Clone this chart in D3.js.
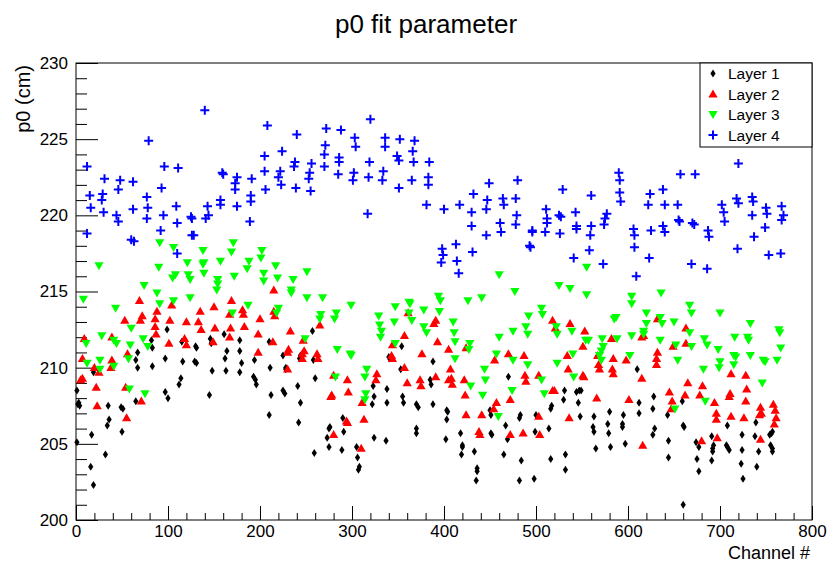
<!DOCTYPE html>
<html>
<head>
<meta charset="utf-8">
<script src="https://cdn.jsdelivr.net/npm/d3@7"></script>
<style>
  html, body { margin: 0; padding: 0; background: #fff; }
  svg { display: block; font-family: "Liberation Sans", Arial, Helvetica, sans-serif; }
</style>
</head>
<body>
<svg id="chart" width="830" height="563"></svg>
<script>
// ---------------- data: [channel, p0 (cm)] ----------------
const layer1 = [[1,208.5],[3,207.7],[2,207.6],[4,207.5],[1,205.1],[19,209.7],[17,205.6],[16,203.5],[19,202.3],[32,204.3],[35,207.5],[36,206.6],[34,206.2],[49,207.4],[51,207.3],[50,205.8],[65,207.8],[67,211.0],[67,210.0],[65,210.5],[82,211.8],[83,211.3],[83,210.1],[99,212.5],[97,210.6],[97,208.4],[100,208.0],[114,209.3],[112,208.9],[115,211.7],[116,210.4],[130,211.4],[131,211.3],[129,210.4],[131,210.3],[145,208.2],[146,211.9],[147,211.6],[148,209.8],[161,212.2],[164,211.1],[162,210.6],[163,209.8],[178,211.8],[178,211.1],[180,210.3],[178,209.7],[194,210.5],[193,209.4],[195,209.2],[196,208.9],[210,211.7],[211,210.0],[212,208.2],[210,206.9],[225,210.8],[228,210.0],[228,209.9],[225,208.5],[227,208.3],[244,210.8],[243,210.6],[241,208.8],[244,207.7],[242,206.4],[257,212.4],[258,210.5],[260,209.3],[259,204.4],[275,206.0],[276,206.1],[273,205.4],[275,204.8],[290,206.7],[291,205.8],[289,204.6],[305,204.8],[306,204.1],[308,203.5],[307,203.3],[323,208.8],[324,208.1],[322,207.6],[324,205.4],[338,208.6],[338,207.7],[337,205.2],[354,211.4],[340,210.7],[341,210.6],[353,209.9],[355,208.1],[356,207.7],[370,207.6],[372,207.4],[370,206.0],[370,205.7],[388,210.4],[388,207.6],[385,209.2],[386,208.9],[403,207.2],[404,207.1],[403,206.6],[402,205.3],[418,205.7],[420,204.9],[420,204.8],[419,204.3],[433,204.5],[436,203.4],[436,203.2],[435,202.6],[450,207.2],[451,206.9],[451,205.7],[452,205.6],[467,206.2],[469,205.3],[465,204.3],[470,209.4],[483,206.9],[482,206.7],[484,203.9],[482,202.6],[500,206.9],[499,205.8],[498,202.7],[514,206.0],[516,207.3],[517,207.5],[516,204.0],[531,208.5],[530,207.9],[532,204.3],[532,203.3],[544,208.4],[547,208.5],[549,208.5],[546,207.7],[548,206.8],[563,206.8],[562,206.1],[563,205.8],[565,204.7],[580,207.1],[578,206.3],[579,205.7],[581,204.8],[595,206.9],[594,206.3],[594,206.1],[597,205.0],[610,209.9],[612,207.7],[612,207.0],[628,208.1],[627,207.3],[629,206.0],[627,205.6],[643,206.9],[644,205.2],[644,204.1],[659,207.8],[660,206.2],[661,206.1],[660,201.0],[674,205.1],[677,204.8],[675,204.0],[677,203.2],[691,205.5],[693,204.9],[692,204.7],[692,204.5],[691,203.9],[708,206.2],[707,204.9],[708,204.8],[710,204.6],[724,205.6],[724,204.6],[723,203.7],[725,202.7],[739,206.4],[738,205.5],[742,204.5],[740,203.5],[754,205.6],[756,205.7],[757,205.8],[755,204.9],[757,204.7],[757,204.5]];

const layer2 = [[9,211.9],[7,210.6],[5,209.2],[7,209.3],[20,210.0],[22,208.7],[23,207.5],[25,209.7],[38,210.0],[39,212.0],[39,210.5],[55,206.7],[54,208.7],[53,213.1],[56,210.9],[69,214.4],[70,213.1],[72,213.4],[71,207.8],[86,212.7],[88,213.7],[86,213.2],[87,212.2],[102,213.1],[101,211.6],[104,214.1],[118,211.9],[120,211.5],[120,213.0],[135,213.7],[133,213.0],[136,212.5],[150,214.0],[151,212.6],[149,211.7],[169,214.4],[167,213.5],[168,212.6],[167,212.0],[181,213.8],[182,213.5],[183,212.7],[200,213.2],[198,212.2],[198,211.0],[215,215.1],[216,213.4],[215,213.7],[214,211.7],[233,212.4],[231,211.2],[230,211.0],[230,209.9],[247,211.8],[248,211.1],[246,210.9],[246,210.6],[265,212.8],[262,210.9],[263,210.6],[280,209.5],[278,208.2],[277,208.1],[280,205.6],[295,209.2],[296,208.4],[294,206.5],[295,206.4],[311,207.7],[313,206.6],[310,204.7],[327,209.6],[326,209.2],[344,211.5],[343,210.8],[344,210.6],[357,212.1],[357,210.0],[360,209.0],[361,213.6],[376,210.9],[374,209.2],[375,208.8],[391,213.1],[389,212.9],[393,211.7],[391,209.4],[405,211.2],[405,209.2],[407,209.9],[408,209.3],[409,208.9],[424,211.3],[422,209.2],[423,208.2],[424,206.9],[438,205.8],[439,205.6],[441,206.9],[455,210.5],[457,207.7],[454,207.3],[470,210.9],[472,207.9],[472,205.6],[487,210.8],[488,209.5],[489,209.1],[486,205.7],[503,209.5],[503,206.8],[504,205.6],[518,213.1],[521,212.6],[518,208.5],[520,208.5],[537,212.9],[534,210.8],[535,209.9],[536,206.7],[553,212.4],[551,211.4],[551,209.5],[552,209.4],[567,210.8],[568,210.2],[569,209.9],[566,208.0],[582,211.9],[584,210.6],[583,209.9],[584,209.6],[598,210.5],[601,207.9],[615,212.0],[617,212.1],[615,209.3],[616,204.9],[632,213.2],[632,211.0],[631,210.6],[631,210.2],[649,211.4],[645,208.4],[648,207.8],[647,207.3],[663,212.6],[663,211.6],[665,209.0],[662,208.2],[680,205.2],[681,208.8],[678,208.2],[694,207.7],[696,207.0],[696,206.6],[697,205.4],[712,209.6],[711,208.3],[710,208.1],[712,206.8],[728,209.5],[729,208.6],[728,207.8],[726,206.7],[744,207.4],[745,207.0],[743,206.9],[744,205.3],[758,207.6],[760,207.2],[761,206.7],[759,206.3]];

const layer3 = [[8,214.5],[11,211.6],[12,210.3],[25,216.7],[26,210.5],[26,209.9],[28,212.1],[41,211.8],[44,211.6],[41,210.1],[43,213.9],[60,212.6],[59,211.5],[57,210.6],[58,208.6],[74,215.4],[73,211.9],[78,211.4],[75,208.3],[91,218.2],[90,216.6],[88,214.9],[91,214.2],[106,217.9],[108,216.1],[105,215.9],[106,214.4],[121,216.9],[122,216.1],[124,215.8],[124,214.6],[138,217.7],[139,216.9],[138,216.8],[139,216.2],[157,217.0],[154,215.8],[154,215.5],[153,215.1],[171,218.2],[169,217.6],[172,216.0],[170,213.6],[188,217.0],[186,216.5],[187,214.1],[202,217.7],[201,217.2],[204,216.2],[204,215.7],[217,216.7],[219,215.9],[220,213.9],[218,213.6],[236,215.8],[234,215.1],[234,214.9],[251,216.3],[251,214.6],[249,211.9],[268,214.6],[266,213.5],[265,213.2],[283,213.6],[281,213.2],[284,211.2],[282,209.4],[299,214.1],[298,210.9],[299,210.8],[316,209.9],[314,209.4],[315,208.3],[314,207.9],[329,213.4],[330,212.8],[332,212.4],[331,212.0],[347,214.0],[346,213.0],[347,211.6],[362,214.3],[363,214.2],[362,213.6],[365,213.1],[378,213.8],[378,212.7],[381,212.3],[394,214.7],[396,214.4],[395,213.7],[410,213.0],[411,212.3],[412,211.7],[412,210.6],[426,214.4],[428,211.6],[427,211.2],[429,208.8],[441,214.6],[444,209.9],[445,209.2],[442,208.2],[460,216.1],[460,212.0],[457,210.9],[459,206.8],[477,215.0],[475,212.4],[475,210.5],[474,208.5],[492,213.4],[489,212.7],[491,212.2],[491,210.2],[506,213.9],[507,213.5],[506,209.2],[509,208.3],[522,212.7],[523,212.2],[523,210.3],[525,215.4],[537,215.2],[539,212.4],[540,210.9],[541,209.4],[555,214.8],[555,216.6],[554,211.8],[557,211.8],[572,211.9],[573,211.4],[571,211.1],[569,210.8],[571,210.5],[587,213.3],[585,213.2],[588,211.9],[604,214.7],[604,214.2],[604,212.1],[602,210.8],[636,214.9],[620,213.6],[620,212.9],[617,212.4],[617,212.2],[635,213.3],[637,212.9],[635,211.8],[650,213.0],[652,211.5],[654,210.5],[651,207.3],[667,214.1],[669,213.6],[667,212.3],[669,211.4],[683,211.9],[686,211.5],[682,209.9],[684,207.8],[700,213.6],[698,211.2],[700,210.4],[699,210.0],[716,212.0],[715,210.8],[717,210.7],[715,210.2],[733,212.9],[730,212.0],[731,211.8],[733,210.8],[747,210.5],[749,210.4],[746,209.0],[764,212.5],[765,212.3],[766,211.3],[762,210.5]];

const layer4 = [[12,223.2],[15,221.3],[16,220.5],[12,218.8],[31,222.4],[29,221.4],[28,221.0],[30,220.2],[48,222.3],[46,221.7],[44,220.0],[46,219.6],[62,222.2],[62,220.4],[60,218.4],[63,218.3],[79,224.9],[77,221.2],[78,220.5],[77,219.8],[96,223.2],[93,221.8],[95,220.0],[92,219.0],[111,223.1],[109,220.6],[110,219.5],[110,217.5],[125,219.9],[126,219.8],[126,218.7],[128,218.7],[140,226.9],[143,220.6],[144,220.0],[141,219.8],[159,222.8],[160,222.7],[157,221.0],[157,220.7],[173,222.1],[173,221.7],[175,222.5],[175,220.6],[191,222.4],[190,221.3],[190,220.9],[189,219.6],[208,225.9],[205,223.9],[205,222.9],[206,221.7],[240,225.3],[224,224.2],[222,222.9],[220,222.5],[223,222.0],[238,223.5],[237,223.2],[239,221.8],[256,223.4],[254,222.8],[253,222.4],[255,221.6],[272,225.7],[271,224.6],[270,224.0],[270,223.2],[288,225.6],[286,223.8],[286,223.5],[285,222.7],[303,225.1],[304,224.5],[302,222.8],[301,222.3],[320,226.3],[319,223.5],[318,222.5],[317,220.1],[336,225.1],[336,224.5],[334,222.9],[333,222.3],[352,225.0],[349,223.9],[351,223.6],[351,221.8],[368,224.9],[366,224.2],[367,223.5],[365,222.3],[384,223.5],[383,222.5],[383,222.0],[381,220.7],[400,220.4],[398,217.8],[399,217.4],[397,216.9],[417,220.7],[413,218.1],[414,217.0],[416,216.2],[432,221.4],[430,220.2],[430,219.3],[431,217.6],[449,222.1],[447,221.0],[446,220.4],[446,218.7],[480,222.3],[464,221.1],[465,220.7],[461,219.5],[462,218.9],[478,221.1],[479,220.0],[478,219.4],[496,219.0],[496,218.9],[493,218.0],[494,217.9],[511,220.4],[512,219.8],[512,219.5],[510,218.9],[529,221.7],[525,220.0],[527,219.9],[526,218.8],[543,220.2],[544,219.3],[544,219.1],[541,217.2],[560,221.3],[560,219.3],[559,218.7],[558,217.7],[577,220.1],[575,219.8],[574,219.4],[573,216.8],[590,222.8],[591,222.3],[591,221.5],[592,220.9],[606,219.1],[607,218.7],[607,217.9],[609,216.0],[624,221.4],[622,220.7],[625,219.0],[623,217.2],[638,221.7],[640,220.7],[638,219.3],[640,218.9],[657,222.7],[654,220.7],[655,219.7],[656,219.6],[669,216.8],[673,222.7],[670,219.5],[672,219.4],[686,216.5],[687,219.0],[688,218.6],[702,220.7],[704,220.2],[705,219.6],[719,217.8],[720,223.4],[718,221.1],[720,220.8],[735,221.2],[736,220.9],[735,220.0],[737,218.6],[750,220.5],[751,220.1],[749,219.2],[753,217.4],[767,220.6],[769,220.0],[767,219.7],[766,217.5]];

const seriesNames = ["Layer 1", "Layer 2", "Layer 3", "Layer 4"];
const xTickValues = [0, 100, 200, 300, 400, 500, 600, 700, 800];
const yTickValues = [200, 205, 210, 215, 220, 225, 230];
const chartTitle = "p0 fit parameter";
const xTitle = "Channel #";
const yTitle = "p0 (cm)";

// ---------------- drawing ----------------
const svg = d3.select("#chart");
svg.append("rect").attr("width", 830).attr("height", 563).attr("fill", "#fff");

const L = 76, R = 812, T = 63, B = 520;
const x = d3.scaleLinear().domain([0, 800]).range([L, R]);
const y = d3.scaleLinear().domain([200, 230]).range([B, T]);

// minor ticks
const xMinor = d3.range(0, 801, 20).filter(v => v % 100 !== 0);
const yMinor = d3.range(200, 231, 1).filter(v => v % 5 !== 0);

// y ticks (pointing into plot)
const gyMaj = svg.append("g").attr("transform", `translate(${L},0)`)
  .call(d3.axisRight(y).tickValues(yTickValues).tickSize(22).tickFormat(""));
const gyMin = svg.append("g").attr("transform", `translate(${L},0)`)
  .call(d3.axisRight(y).tickValues(yMinor).tickSize(11).tickFormat(""));
const gyLab = svg.append("g").attr("transform", `translate(${L},0)`)
  .call(d3.axisLeft(y).tickValues(yTickValues).tickSize(0).tickPadding(8).tickFormat(d3.format("d")));

// x ticks
const gxMaj = svg.append("g").attr("transform", `translate(0,${B})`)
  .call(d3.axisTop(x).tickValues(xTickValues).tickSize(14).tickFormat(""));
const gxMin = svg.append("g").attr("transform", `translate(0,${B})`)
  .call(d3.axisTop(x).tickValues(xMinor).tickSize(7).tickFormat(""));
const gxLab = svg.append("g").attr("transform", `translate(0,${B})`)
  .call(d3.axisBottom(x).tickValues(xTickValues).tickSize(0).tickPadding(5).tickFormat(d3.format("d")));

[gyMaj, gyMin, gyLab, gxMaj, gxMin, gxLab].forEach(g => {
  g.select(".domain").remove();
  g.selectAll("line").attr("stroke", "#000").attr("stroke-width", 1);
  g.selectAll("text").attr("fill", "#000").attr("font-size", 17)
    .attr("font-family", "'Liberation Sans', Arial, sans-serif");
});

// frame
svg.append("rect").attr("x", L).attr("y", T).attr("width", R - L).attr("height", B - T)
  .attr("fill", "none").attr("stroke", "#000").attr("stroke-width", 1);

// marker shapes
const markers = [
  { color: "#000000", path: "M0,-4L2.6,0L0,4L-2.6,0Z", fill: true },
  { color: "#ff0000", path: "M0,-4.6L4.6,3.4L-4.6,3.4Z", fill: true },
  { color: "#00ff00", path: "M-4.6,-3.4L4.6,-3.4L0,4.6Z", fill: true },
  { color: "#0000ff", path: "M-4.5,0H4.5M0,-4.5V4.5", fill: false }
];
const layers = [layer1, layer2, layer3, layer4];

const plot = svg.append("g");
layers.forEach((data, i) => {
  const m = markers[i];
  plot.append("g").selectAll("path").data(data).join("path")
    .attr("d", m.path)
    .attr("transform", d => `translate(${x(d[0])},${y(d[1])})`)
    .attr("fill", m.fill ? m.color : "none")
    .attr("stroke", m.fill ? "none" : m.color)
    .attr("stroke-width", m.fill ? 0 : 2);
});

// title
svg.append("text").attr("x", 426).attr("y", 33).attr("text-anchor", "middle")
  .attr("font-size", 26).attr("fill", "#000").text(chartTitle);

// axis titles
svg.append("text").attr("x", R - 2).attr("y", 559).attr("text-anchor", "end")
  .attr("font-size", 18).attr("fill", "#000").text(xTitle);
svg.append("text").attr("transform", `translate(30,${T + 2}) rotate(-90)`)
  .attr("text-anchor", "end").attr("font-size", 20).attr("fill", "#000").text(yTitle);

// legend
const lg = svg.append("g");
lg.append("rect").attr("x", 700).attr("y", T).attr("width", R - 700).attr("height", 84)
  .attr("fill", "#fff").attr("stroke", "#000").attr("stroke-width", 1);
const legendY = [73.5, 94, 114.5, 135];
seriesNames.forEach((name, i) => {
  const m = markers[i];
  lg.append("path").attr("d", m.path)
    .attr("transform", `translate(713,${legendY[i]})`)
    .attr("fill", m.fill ? m.color : "none")
    .attr("stroke", m.fill ? "none" : m.color)
    .attr("stroke-width", m.fill ? 0 : 2);
  lg.append("text").attr("x", 728).attr("y", legendY[i]).attr("dy", "0.36em")
    .attr("font-size", 15.5).attr("fill", "#000").text(name);
});
</script>
</body>
</html>
